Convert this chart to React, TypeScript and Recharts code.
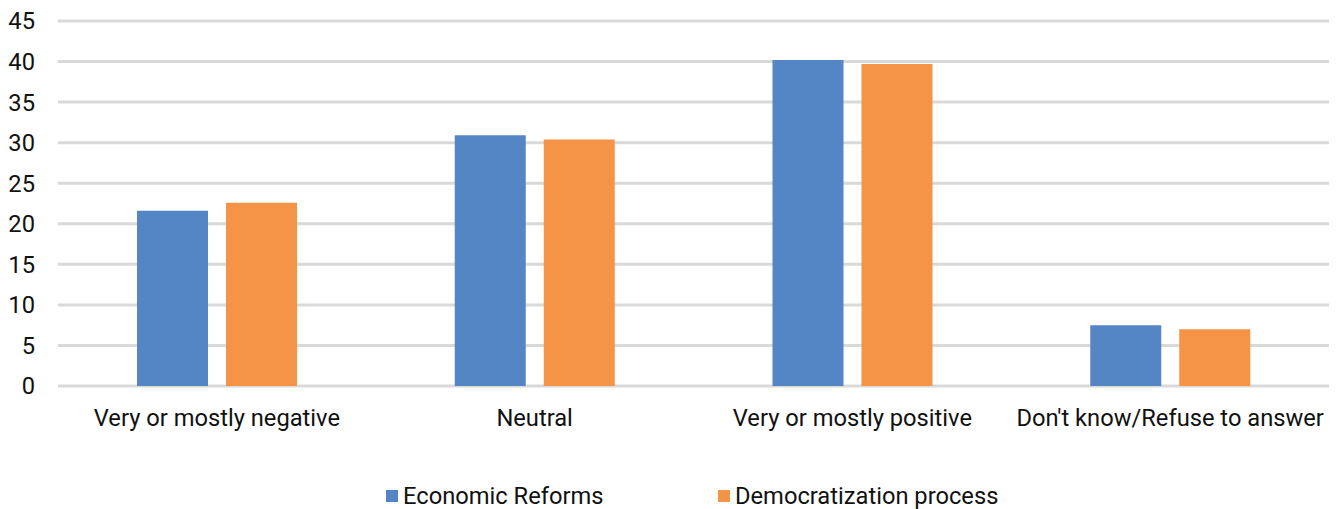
import React from "react";
import { BarChart, Bar, XAxis, YAxis, CartesianGrid, Legend } from "recharts";

const categories = [
  "Very or mostly negative",
  "Neutral",
  "Very or mostly positive",
  "Don't know/Refuse to answer",
];
const economicReforms = [21.6, 30.9, 40.2, 7.5];
const democratization = [22.6, 30.4, 39.7, 7.0];
const yTicks = [0, 5, 10, 15, 20, 25, 30, 35, 40, 45];

const seriesNames = ["Economic Reforms", "Democratization process"];
const seriesColors = ["#5486C6", "#F59346"];

const data = categories.map((c, i) => ({
  name: c,
  econ: economicReforms[i],
  demo: democratization[i],
}));

const FONT = "Roboto, 'Noto Sans', sans-serif";
const FS = 23.7;

const LegendContent = () => (
  <div
    style={{
      position: "relative",
      height: 28,
      fontFamily: FONT,
      fontSize: FS,
      color: "#111",
    }}
  >
    {seriesNames.map((n, i) => (
      <div
        key={n}
        style={{
          position: "absolute",
          left: i === 0 ? 386 : 718,
          top: 0,
          display: "flex",
          alignItems: "center",
          whiteSpace: "nowrap",
        }}
      >
        <span
          style={{
            display: "inline-block",
            width: 12,
            height: 12,
            background: seriesColors[i],
            marginRight: 5,
          }}
        />
        <span>{n}</span>
      </div>
    ))}
  </div>
);

export default function App() {
  return (
    <div>
      <style>{`body{margin:0;}`}</style>
      <BarChart
        width={1336}
        height={509}
        data={data}
        margin={{ top: 21, right: 7, left: 0, bottom: 0 }}
        barSize={71}
        barGap={18}
      >
        <CartesianGrid vertical={false} stroke="#D9D9D9" strokeWidth={3} />
        <XAxis
          dataKey="name"
          height={123}
          axisLine={false}
          tickLine={false}
          tickSize={0}
          tickMargin={23}
          interval={0}
          tick={{ fill: "#111", fontSize: FS, fontFamily: FONT }}
        />
        <YAxis
          width={58}
          domain={[0, 45]}
          ticks={yTicks}
          axisLine={false}
          tickLine={false}
          tickSize={0}
          tickMargin={23}
          interval={0}
          tick={{ fill: "#111", fontSize: FS, fontFamily: FONT }}
        />
        <Legend
          layout="horizontal"
          verticalAlign="middle"
          align="center"
          wrapperStyle={{ top: 482, left: 0, width: 1336 }}
          content={() => <LegendContent />}
        />
        <Bar dataKey="econ" name={seriesNames[0]} fill={seriesColors[0]} isAnimationActive={false} />
        <Bar dataKey="demo" name={seriesNames[1]} fill={seriesColors[1]} isAnimationActive={false} />
      </BarChart>
    </div>
  );
}
